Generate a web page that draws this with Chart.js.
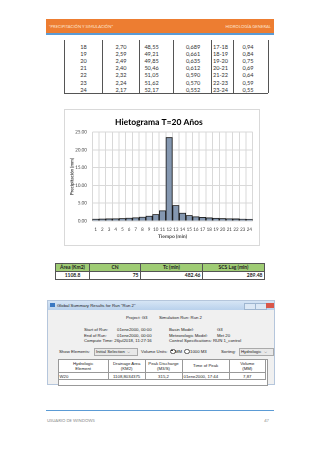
<!DOCTYPE html>
<html>
<head>
<meta charset="utf-8">
<script src="https://cdn.jsdelivr.net/npm/chart.js@4"></script>
<style>
  html, body { margin: 0; padding: 0; background: #fff; }
  body { width: 320px; height: 453px; position: relative; overflow: hidden; font-family: Lato, 'Liberation Sans', sans-serif; color: #333; }
  .abs { position: absolute; white-space: nowrap; }
  .hdr { left: 46px; top: 19px; width: 228px; height: 14px; background: #ed7d31; }
  .hdrline { left: 46px; top: 33px; width: 228px; height: 2px; background: #5b9bd5; }
  .hdrtxt { top: 23.5px; font-size: 4.2px; color: #fde3cf; }
  .vl { position: absolute; width: 0.8px; background: #555; }
  .cell { position: absolute; font-size: 5.6px; transform: translate(-50%, -50%); color: #333; }
  .box { left: 64px; top: 109px; width: 194px; height: 135px; border: 1px solid #d9d9d9; overflow: hidden; }
  .scaler { position: absolute; left: 0; top: 0; width: 388px; height: 270px; transform: scale(0.5); transform-origin: 0 0; }
  table.t2 { position: absolute; left: 55px; top: 263px; border-collapse: collapse; font-size: 5px; }
  table.t2 td { border: 0.8px solid #555; height: 7px; padding: 0 1.5px; line-height: 7px; font-weight: bold; color: #222; }
  table.t2 tr.h td { background: #9fcc74; text-align: center; }
  .win { left: 47px; top: 300px; width: 226px; height: 83px; background: #f0f0f0; border: 0.6px solid #b5c6dc; }
  .tbar { left: 0; top: 0; width: 226px; height: 8.5px; background: linear-gradient(#d6e5f5, #b9d1ec); }
  .w { position: absolute; white-space: nowrap; font-size: 4.3px; color: #222; font-family: 'Liberation Sans', sans-serif; }
  .foot { left: 46px; top: 409.5px; width: 228px; height: 1.6px; background: #5b9bd5; }
  .ftxt { top: 418px; font-size: 4.2px; color: #8a8a8a; }
</style>
</head>
<body>
<div class="abs hdr"></div>
<div class="abs hdrline"></div>
<div class="abs hdrtxt" style="left:49px;">“PRECIPITACIÓN Y SIMULACIÓN”</div>
<div class="abs hdrtxt" style="right:49px;">HIDROLOGÍA GENERAL</div>

<div id="table1"></div>

<div class="abs box"><div class="scaler"><canvas id="chart" width="388" height="270"></canvas></div></div>

<table class="t2">
  <tr class="h"><td style="width:30px">Área (Km2)</td><td style="width:47px">CN</td><td style="width:58px">Tc (min)</td><td style="width:58px">SCS Lag (min)</td></tr>
  <tr><td style="text-align:center" id="area"></td><td style="text-align:right" id="cn"></td><td style="text-align:right" id="tc"></td><td style="text-align:right" id="lag"></td></tr>
</table>

<div class="abs win">
  <div class="abs tbar"></div>
  <div class="abs" style="left:2px;top:1.8px;width:5px;height:4.5px;background:#3a78c2;"></div>
  <div class="w" style="left:9px;top:1.5px;">Global Summary Results for Run "Run 2"</div>
  <div class="abs" style="left:196px;top:1.5px;width:10px;height:5px;background:#dce8f5;border:0.5px solid #9fb6d0;"></div>
  <div class="abs" style="left:207px;top:1.5px;width:10px;height:5px;background:#dce8f5;border:0.5px solid #9fb6d0;"></div>
  <div class="abs" style="left:218px;top:1.5px;width:8px;height:5px;background:#d9574a;"></div>
  <div class="w" style="left:78px;top:14px;">Project: G3</div>
  <div class="w" style="left:111px;top:14px;">Simulation Run: Run 2</div>
  <div class="w" style="left:36px;top:26px;">Start of Run:</div>
  <div class="w" style="left:69px;top:26px;">01ene2000, 00:00</div>
  <div class="w" style="left:121px;top:26px;">Basin Model:</div>
  <div class="w" style="left:169px;top:26px;">G3</div>
  <div class="w" style="left:36px;top:31.5px;">End of Run:</div>
  <div class="w" style="left:69px;top:31.5px;">01ene2000, 00:00</div>
  <div class="w" style="left:121px;top:31.5px;">Meteorologic Model:</div>
  <div class="w" style="left:169px;top:31.5px;">Met 20</div>
  <div class="w" style="left:36px;top:37px;">Compute Time: 26jul2018, 11:27:16</div>
  <div class="w" style="left:121px;top:37px;">Control Specifications: RUN 1_control</div>
  <div class="w" style="left:11px;top:48px;">Show Elements:</div>
  <div class="abs" style="left:46px;top:46.5px;width:42px;height:6px;background:#e8e8e8;border:0.5px solid #aaa;"></div>
  <div class="w" style="left:48px;top:48px;">Initial Selection &nbsp;⌵</div>
  <div class="w" style="left:93px;top:48px;">Volume Units:</div>
  <div class="abs" style="left:122px;top:47.5px;width:3.6px;height:3.6px;border-radius:50%;border:0.5px solid #555;background:#fff;"></div>
  <div class="abs" style="left:123.3px;top:48.8px;width:1.6px;height:1.6px;border-radius:50%;background:#222;"></div>
  <div class="w" style="left:127px;top:48px;">MM</div>
  <div class="abs" style="left:136px;top:47.5px;width:3.6px;height:3.6px;border-radius:50%;border:0.5px solid #555;background:#fff;"></div>
  <div class="w" style="left:142px;top:48px;">1000 M3</div>
  <div class="w" style="left:173px;top:48px;">Sorting:</div>
  <div class="abs" style="left:191px;top:46.5px;width:33px;height:6px;background:#e8e8e8;border:0.5px solid #aaa;"></div>
  <div class="w" style="left:193px;top:48px;">Hydrologic &nbsp;⌵</div>
  <div class="abs" style="left:10px;top:58px;width:208px;height:25px;background:#fff;border:0.5px solid #999;"></div>
  <div id="summary"></div>
</div>

<div class="abs foot"></div>
<div class="abs ftxt" style="left:47px;">USUARIO DE WINDOWS</div>
<div class="abs ftxt" style="right:51px;">47</div>

<script>
// Table above the chart (continuation rows)
const tableHours = ['18', '19', '20', '21', '22', '23', '24'];
const tableIntensity = ['2,70', '2,59', '2,49', '2,40', '2,32', '2,24', '2,17'];
const tableDepth = ['48,55', '49,21', '49,85', '50,46', '51,05', '51,62', '52,17'];
const tableIncrement = ['0,689', '0,661', '0,635', '0,612', '0,590', '0,570', '0,552'];
const tableInterval = ['17-18', '18-19', '19-20', '20-21', '21-22', '22-23', '23-24'];
const tableBlock = ['0,94', '0,84', '0,75', '0,69', '0,64', '0,59', '0,55'];

// Hyetograph
const timeLabels = ['1', '2', '3', '4', '5', '6', '7', '8', '9', '10', '11', '12',
                    '13', '14', '15', '16', '17', '18', '19', '20', '21', '22', '23', '24'];
const precipValues = [0.57, 0.61, 0.66, 0.70, 0.77, 0.86, 0.98, 1.16, 1.42, 1.89, 2.95, 23.5,
                      4.42, 2.27, 1.61, 1.27, 1.07, 0.94, 0.84, 0.75, 0.69, 0.64, 0.59, 0.55];
const yTicks = [0, 5, 10, 15, 20, 25];

// Basin parameters
const basinHeaders = ['Área (Km2)', 'CN', 'Tc (min)', 'SCS Lag (min)'];
const basinValues = ['1108.8', '75', '482.46', '289.48'];

// HMS summary
const summaryHeaders = [['Hydrologic', 'Element'], ['Drainage Area', '(KM2)'], ['Peak Discharge', '(M3/S)'], ['Time of Peak'], ['Volume', '(MM)']];
const summaryRow = ['W20', '1108,8034375', '315,2', '01ene2000, 17:44', '7,87'];

const chartFont = "Lato, 'Liberation Sans', sans-serif";

document.addEventListener('DOMContentLoaded', () => {
    // first table
    const t1 = document.getElementById('table1');
    const colX = [83.5, 121, 151.5, 193, 220.5, 248];
    const lines = [64, 101.5, 139.3, 173.3, 210.5, 232.7, 268];
    lines.forEach(x => {
        const d = document.createElement('div');
        d.className = 'vl';
        d.style.left = x + 'px'; d.style.top = '40px'; d.style.height = '53px';
        t1.appendChild(d);
    });
    const bottom = document.createElement('div');
    bottom.style.cssText = 'position:absolute;left:64px;top:92.5px;width:204px;height:0.8px;background:#555;';
    t1.appendChild(bottom);
    const cols = [tableHours, tableIntensity, tableDepth, tableIncrement, tableInterval, tableBlock];
    cols.forEach((col, c) => {
        col.forEach((txt, r) => {
            const d = document.createElement('div');
            d.className = 'cell';
            d.textContent = txt;
            d.style.left = colX[c] + 'px';
            d.style.top = (45.8 + r * 7.17) + 'px';
            t1.appendChild(d);
        });
    });

    // basin table
    ['area', 'cn', 'tc', 'lag'].forEach((id, i) => {
        document.getElementById(id).textContent = basinValues[i];
    });

    // summary table in the screenshot
    const sum = document.getElementById('summary');
    const sx = [10, 60.3, 97, 134, 181.3, 217.3];
    sx.forEach(x => {
        const d = document.createElement('div');
        d.style.cssText = 'position:absolute;top:58px;width:0.5px;height:20px;background:#999;left:' + x + 'px;';
        sum.appendChild(d);
    });
    const hl = document.createElement('div');
    hl.style.cssText = 'position:absolute;left:10px;top:71px;width:208px;height:0.5px;background:#999;';
    sum.appendChild(hl);
    const hl2 = hl.cloneNode(); hl2.style.top = '78px';
    sum.appendChild(hl2);
    summaryHeaders.forEach((lines2, i) => {
        const d = document.createElement('div');
        d.className = 'w';
        d.style.cssText += 'text-align:center;line-height:5px;width:' + (sx[i + 1] - sx[i]) + 'px;left:' + sx[i] + 'px;top:' + (lines2.length > 1 ? 59.5 : 62) + 'px;';
        d.innerHTML = lines2.join('<br>');
        sum.appendChild(d);
    });
    summaryRow.forEach((txt, i) => {
        const d = document.createElement('div');
        d.className = 'w';
        d.textContent = txt;
        if (i === 0 || i === 3) {
            d.style.left = (sx[i] + 1.5) + 'px';
        } else {
            d.style.cssText += 'text-align:center;width:' + (sx[i + 1] - sx[i]) + 'px;left:' + sx[i] + 'px;';
        }
        d.style.top = '72.5px';
        sum.appendChild(d);
    });

    // hyetograph chart, drawn at 2x and scaled down by the wrapper
    const ctx = document.getElementById('chart').getContext('2d');
    new Chart(ctx, {
        type: 'bar',
        data: {
            labels: timeLabels,
            datasets: [{
                data: precipValues,
                backgroundColor: '#8497b0',
                borderColor: '#1a1a1a',
                borderWidth: 1.8,
                barPercentage: 1,
                categoryPercentage: 1
            }]
        },
        options: {
            responsive: false,
            animation: false,
            devicePixelRatio: 1,
            layout: { padding: { left: 0, right: 12.6, top: 0, bottom: 0 } },
            plugins: {
                legend: { display: false },
                tooltip: { enabled: false },
                title: {
                    display: true,
                    text: 'Hietograma T=20 Años',
                    color: '#000',
                    font: { family: chartFont, size: 17, weight: 'bold' },
                    padding: { top: 14.4, bottom: 9.2 }
                }
            },
            scales: {
                x: {
                    grid: { color: '#d9d9d9', lineWidth: 2, drawTicks: false },
                    border: { display: false },
                    ticks: {
                        color: '#404040',
                        font: { family: chartFont, size: 9 },
                        padding: 12,
                        maxRotation: 0,
                        autoSkip: false
                    },
                    title: {
                        display: true,
                        text: 'Tiempo (min)',
                        color: '#404040',
                        font: { family: chartFont, size: 10, weight: 'bold' },
                        padding: { top: 0, bottom: 11 }
                    },
                    afterFit: scale => { scale.height = 48; }
                },
                y: {
                    min: 0,
                    max: 25,
                    afterBuildTicks: scale => { scale.ticks = yTicks.map(v => ({ value: v })); },
                    grid: { color: '#d9d9d9', lineWidth: 2, drawTicks: false },
                    border: { display: false },
                    ticks: {
                        color: '#404040',
                        font: { family: chartFont, size: 9 },
                        padding: 11,
                        callback: value => value.toFixed(2)
                    },
                    title: {
                        display: true,
                        text: 'Precipitación (mm)',
                        color: '#404040',
                        font: { family: chartFont, size: 9, weight: 'bold' },
                        padding: { top: 9, bottom: 0 }
                    },
                    afterFit: scale => { scale.width = 54.6; }
                }
            }
        }
    });
});
</script>
</body>
</html>
